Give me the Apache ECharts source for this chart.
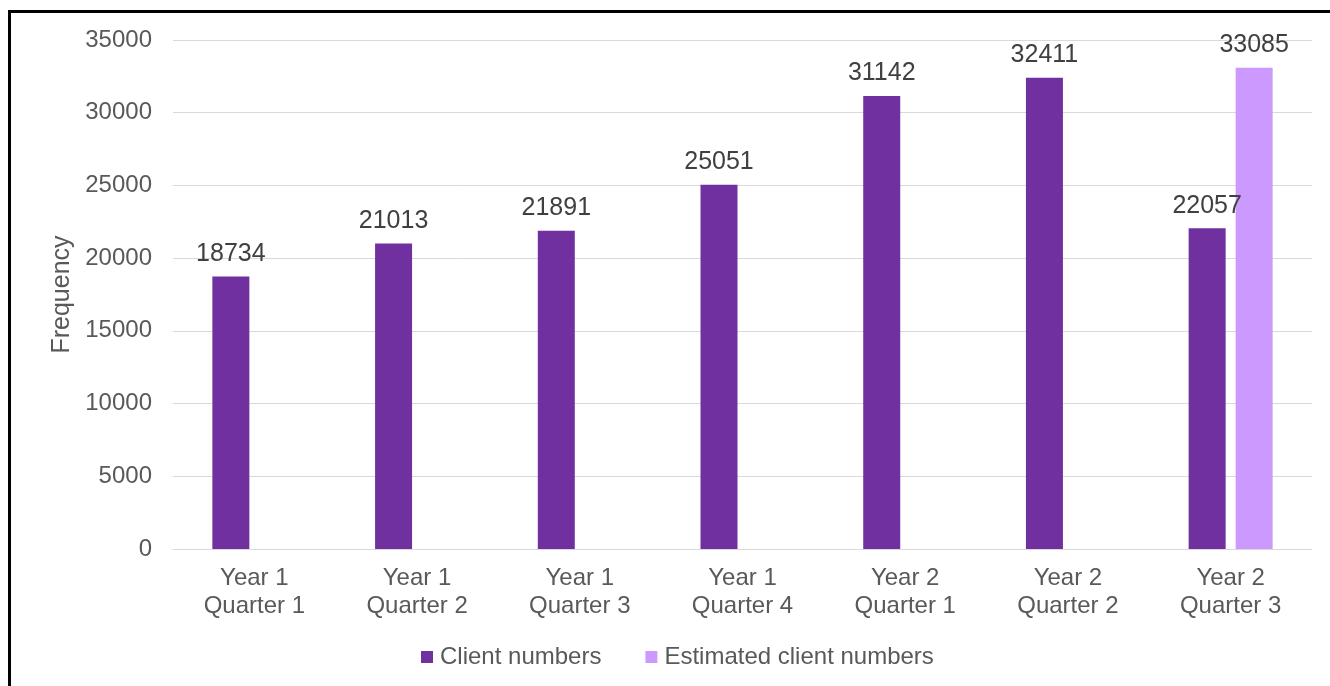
<!DOCTYPE html>
<html>
<head>
<meta charset="utf-8">
<script src="https://cdn.jsdelivr.net/npm/echarts@6/dist/echarts.min.js"></script>
<style>
html,body{margin:0;padding:0;background:#fff;}
#chart{width:1330px;height:686px;}
#frame{position:absolute;left:8px;top:10px;width:1330px;height:700px;border-top:3px solid #000;border-left:3px solid #000;pointer-events:none;box-sizing:border-box;}
</style>
</head>
<body>
<div id="chart"></div>
<div id="frame"></div>
<script>
const categories = ["Year 1\nQuarter 1","Year 1\nQuarter 2","Year 1\nQuarter 3","Year 1\nQuarter 4","Year 2\nQuarter 1","Year 2\nQuarter 2","Year 2\nQuarter 3"];
const clientNumbers = [18734, 21013, 21891, 25051, 31142, 32411, 22057];
const estimatedClientNumbers = [null, null, null, null, null, null, 33085];
const seriesNames = ["Client numbers", "Estimated client numbers"];
const yTicks = {min: 0, max: 35000, interval: 5000};

const font = "Liberation Sans, Arial, sans-serif";
const txt = "#595959";
const chart = echarts.init(document.getElementById('chart'));
chart.setOption({
  animation: false,
  textStyle: {fontFamily: font},
  grid: {left: 173, right: 18, top: 40, bottom: 137},
  legend: {
    bottom: 12, left: 416,
    itemWidth: 12, itemHeight: 12, itemGap: 44,
    icon: 'rect',
    textStyle: {color: txt, fontSize: 24, fontFamily: font, padding: [0, 0, 0, 2]},
    data: seriesNames
  },
  xAxis: {
    type: 'category', data: categories,
    axisLine: {lineStyle: {color: '#d9d9d9', width: 1}},
    axisTick: {show: false},
    axisLabel: {color: txt, fontSize: 24, lineHeight: 28, margin: 15, fontFamily: font}
  },
  yAxis: {
    type: 'value', min: yTicks.min, max: yTicks.max, interval: yTicks.interval,
    name: 'Frequency', nameLocation: 'middle', nameGap: 97, nameRotate: 90,
    nameTextStyle: {color: txt, fontSize: 25, fontFamily: font},
    axisLine: {show: false}, axisTick: {show: false},
    axisLabel: {color: txt, fontSize: 24, margin: 21, fontFamily: font, formatter: v => String(v)},
    splitLine: {lineStyle: {color: '#d9d9d9', width: 1}}
  },
  series: [
    {name: seriesNames[0], type: 'bar', data: clientNumbers, barWidth: 37, barGap: '27%',
     itemStyle: {color: '#7030A0'},
     label: {show: true, position: 'top', distance: 10, color: '#404040', fontSize: 25, fontFamily: font}},
    {name: seriesNames[1], type: 'bar', data: estimatedClientNumbers, barWidth: 37,
     itemStyle: {color: '#CC99FF'},
     label: {show: true, position: 'top', distance: 10, color: '#404040', fontSize: 25, fontFamily: font}}
  ]
});
</script>
</body>
</html>
